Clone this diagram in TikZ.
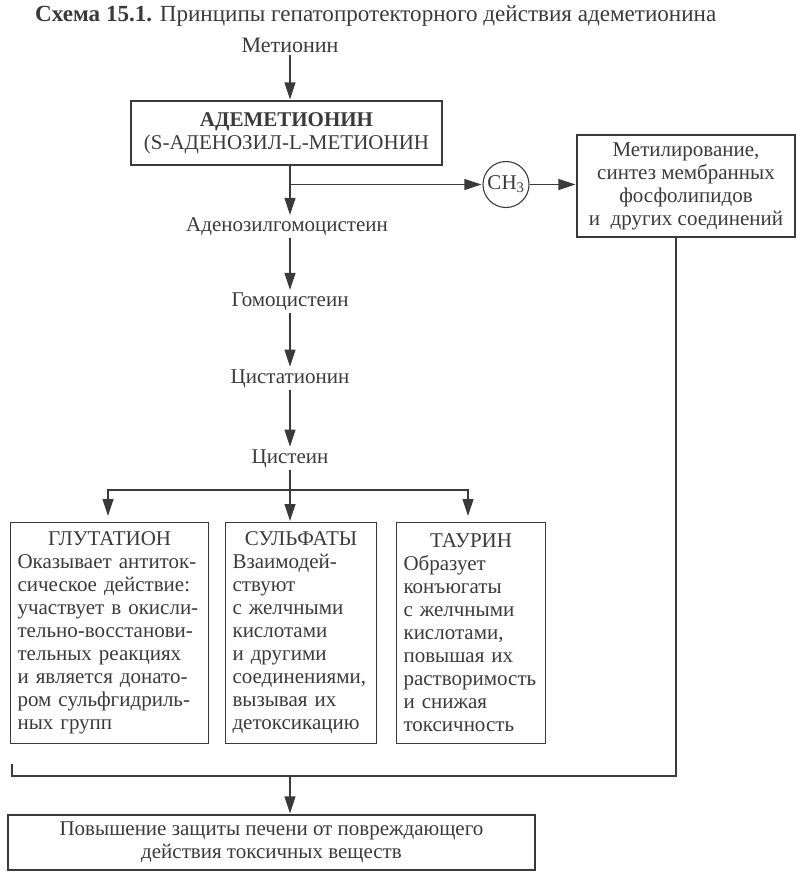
\documentclass[tikz,border=0pt]{standalone}
\usepackage{fontspec}
\setmainfont{Liberation Serif}
\usetikzlibrary{arrows.meta}
\definecolor{ink}{HTML}{3A3A3A}
\begin{document}
\begin{tikzpicture}[x=1pt,y=-1pt,
  font=\fontsize{21}{23}\selectfont, color=ink,
  every node/.style={inner sep=2pt},
  line/.style={draw=ink, line width=1.2pt},
  arr/.style={line, -{Triangle[length=17pt,width=11pt]}, shorten >=1pt},
  box/.style={draw=ink, line width=1.1pt, rectangle},
  txtbox/.style={box, anchor=north west, inner sep=7pt, minimum height=221pt, align=left},
]
\useasboundingbox (0,0) rectangle (803,878);

\node[anchor=base west, font=\fontsize{23.1}{24}\selectfont] (title) at (33,21) {\textbf{Схема 15.1.} Принципы гепатопротекторного действия адеметионина};
\node[font=\fontsize{22}{24}\selectfont] (met) at (290,45) {Метионин};
\node[box, minimum width=311pt, minimum height=64pt, align=center] (adem) at (286.5,133)
  {\textbf{АДЕМЕТИОНИН}\\(S-АДЕНОЗИЛ-L-МЕТИОНИН};
\coordinate (br) at (290,184.5);
\node (ahc) at (287,227) {Аденозилгомоцистеин};
\node[circle, draw=ink, line width=1.1pt, minimum size=46pt, inner sep=0pt] (ch3) at (506,184.5) {CH\textsubscript{3}};
\node[box, minimum width=218pt, minimum height=102pt, align=center] (meth) at (686,186)
  {Метилирование,\\синтез мембранных\\фосфолипидов\\и\ \ других соединений};
\node (hcy) at (290,302) {Гомоцистеин};
\node (cth) at (290,379) {Цистатионин};
\node (cys) at (290,459) {Цистеин};

\node[txtbox, text width=184pt] (glut) at (10,522)
  {\makebox[\linewidth]{ГЛУТАТИОН}\\Оказывает антиток-\\сическое действие:\\участвует в окисли-\\тельно-восстанови-\\тельных реакциях\\и является донато-\\ром сульфгидриль-\\ных групп};
\node[txtbox, text width=137pt] (sulf) at (225,522)
  {\makebox[\linewidth]{СУЛЬФАТЫ}\\Взаимодей-\\ствуют\\с желчными\\кислотами\\и другими\\соединениями,\\вызывая их\\детоксикацию};
\node[txtbox, text width=135pt] (taur) at (396,522)
  {\makebox[\linewidth]{ТАУРИН}\\Образует\\конъюгаты\\с желчными\\кислотами,\\повышая их\\растворимость\\и снижая\\токсичность};

\node[box, minimum width=527pt, minimum height=55pt, align=center] (prot) at (271.5,842.5)
  {Повышение защиты печени от повреждающего\\действия токсичных веществ};

% connectors
\draw[arr] (met.south) -- (met.south |- adem.north);
\draw[arr] (br |- adem.south) -- (br |- ahc.north);
\draw[arr] (br) -- (ch3.west);
\draw[arr] (ch3.east) -- (ch3.east -| meth.west);
\draw[arr] (br |- ahc.south) -- (br |- hcy.north);
\draw[arr] (hcy.south) -- (cth.north);
\draw[arr] (cth.south) -- (cys.north);

\coordinate (sp) at (290,490);
\coordinate (spL) at (108,490);
\coordinate (spR) at (468,490);
\draw[arr] (cys.south) -- (sp |- sulf.north);
\draw[arr, shorten >=6pt] (spR) -| (spL |- glut.north);
\draw[arr, shorten >=6pt] (spL) -| (spR |- taur.north);

\coordinate (fbR) at (676,776);
\coordinate (fbL) at (12,776);
\coordinate (fbT) at (12,764);
\coordinate (fbC) at (290,776);
\draw[line] (meth.south -| fbR) -- (fbR) -- (fbL) -- (fbT);
\draw[arr] (fbC) -- (fbC |- prot.north);
\end{tikzpicture}
\end{document}
